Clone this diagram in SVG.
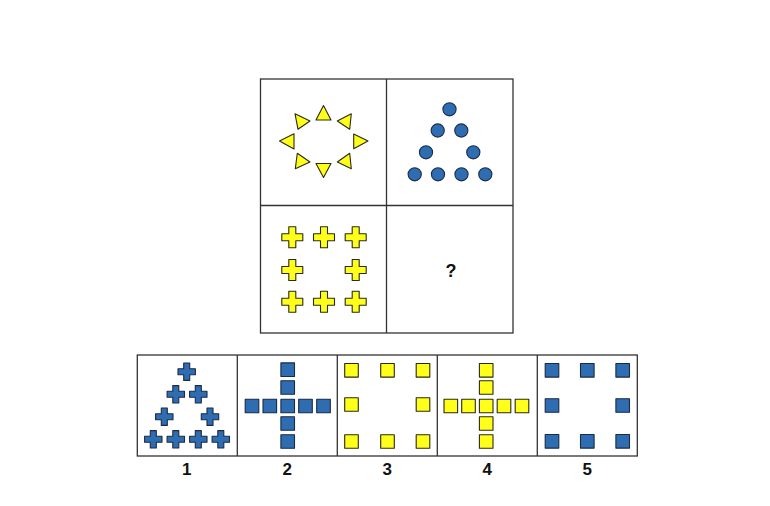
<svg xmlns="http://www.w3.org/2000/svg" width="770" height="506" viewBox="0 0 770 506">
<defs>
<style>
.frame{fill:none;stroke:#333;stroke-width:1.3}
.y{fill:#FFFF1A;stroke:#2a2a1a;stroke-width:1.1;stroke-linejoin:round}
.b{fill:#2F6DB3;stroke:#1b2b44;stroke-width:1.1;stroke-linejoin:round}
.lbl{font-family:"Liberation Sans",Arial,sans-serif;font-weight:bold;font-size:17px;fill:#111;text-anchor:middle}
</style>
<path id="crossY" d="M-3.5,-10.5 H3.5 V-3.5 H10.5 V3.5 H3.5 V10.5 H-3.5 V3.5 H-10.5 V-3.5 H-3.5 Z"/>
<path id="crossB" d="M-3,-8.7 H3 V-3 H8.7 V3 H3 V8.7 H-3 V3 H-8.7 V-3 H-3 Z"/>
<rect id="sq" x="-6.8" y="-6.8" width="13.6" height="13.6"/>
</defs>
<rect width="770" height="506" fill="#fff"/>

<g id="grid">
<rect class="frame" x="260.5" y="79" width="252.5" height="254"/>
<line class="frame" x1="386.5" y1="79" x2="386.5" y2="333"/>
<line class="frame" x1="260.5" y1="205.5" x2="513" y2="205.5"/>
</g>

<g id="cell-triangles">
<polygon class="y" points="323.5,105.5 316,120 331,120"/>
<polygon class="y" points="316,163.5 331,163.5 323.5,177.5"/>
<polygon class="y" points="279.5,141 294,133.7 294,149"/>
<polygon class="y" points="368,141 353.7,134 353.7,148.7"/>
<polygon class="y" points="295,113.7 310,121 298,129.3"/>
<polygon class="y" points="351.3,113.7 337.3,121 349.7,129.3"/>
<polygon class="y" points="297.3,153.3 310,162 295.3,168.7"/>
<polygon class="y" points="349.7,153.3 337.3,162 351.3,168.7"/>
</g>

<g id="cell-circles">
<circle class="b" cx="449.5" cy="109.3" r="6.6"/>
<circle class="b" cx="437.7" cy="130.5" r="6.6"/>
<circle class="b" cx="461.3" cy="130.5" r="6.6"/>
<circle class="b" cx="426" cy="152.3" r="6.6"/>
<circle class="b" cx="473.3" cy="152.3" r="6.6"/>
<circle class="b" cx="414.7" cy="174.3" r="6.6"/>
<circle class="b" cx="438" cy="174.3" r="6.6"/>
<circle class="b" cx="461.5" cy="174.3" r="6.6"/>
<circle class="b" cx="485.3" cy="174.3" r="6.6"/>
</g>

<g id="cell-crosses">
<use href="#crossY" class="y" x="292.3" y="237.3"/>
<use href="#crossY" class="y" x="324" y="237.3"/>
<use href="#crossY" class="y" x="355.7" y="237.3"/>
<use href="#crossY" class="y" x="292.3" y="270"/>
<use href="#crossY" class="y" x="355.7" y="270"/>
<use href="#crossY" class="y" x="292.3" y="301.7"/>
<use href="#crossY" class="y" x="324" y="301.7"/>
<use href="#crossY" class="y" x="355.7" y="301.7"/>
</g>

<g id="cell-question">
<text class="lbl" x="451" y="276.5" style="font-size:18px">?</text>
</g>

<g id="answers-frame">
<rect class="frame" x="137.3" y="355" width="500" height="101"/>
<line class="frame" x1="237.3" y1="355" x2="237.3" y2="456"/>
<line class="frame" x1="337.3" y1="355" x2="337.3" y2="456"/>
<line class="frame" x1="437.3" y1="355" x2="437.3" y2="456"/>
<line class="frame" x1="537.3" y1="355" x2="537.3" y2="456"/>
</g>

<g id="option-1">
<use href="#crossB" class="b" x="186.7" y="371.7"/>
<use href="#crossB" class="b" x="175.8" y="394.3"/>
<use href="#crossB" class="b" x="198.3" y="394.3"/>
<use href="#crossB" class="b" x="164.3" y="416.7"/>
<use href="#crossB" class="b" x="210" y="416.7"/>
<use href="#crossB" class="b" x="153.3" y="439.3"/>
<use href="#crossB" class="b" x="175.8" y="439.3"/>
<use href="#crossB" class="b" x="198.3" y="439.3"/>
<use href="#crossB" class="b" x="220.8" y="439.3"/>
<text class="lbl" x="186.7" y="475">1</text>
</g>

<g id="option-2">
<use href="#sq" class="b" x="287.7" y="369.7"/>
<use href="#sq" class="b" x="287.7" y="387.5"/>
<use href="#sq" class="b" x="287.7" y="406"/>
<use href="#sq" class="b" x="287.7" y="423.5"/>
<use href="#sq" class="b" x="287.7" y="441.5"/>
<use href="#sq" class="b" x="252" y="406"/>
<use href="#sq" class="b" x="269.8" y="406"/>
<use href="#sq" class="b" x="305.5" y="406"/>
<use href="#sq" class="b" x="323.5" y="406"/>
<text class="lbl" x="287.3" y="475">2</text>
</g>

<g id="option-3">
<use href="#sq" class="y" x="351.5" y="370.3"/>
<use href="#sq" class="y" x="387.5" y="370.3"/>
<use href="#sq" class="y" x="423" y="370.3"/>
<use href="#sq" class="y" x="351.5" y="404.5"/>
<use href="#sq" class="y" x="423" y="404.5"/>
<use href="#sq" class="y" x="351.5" y="441.5"/>
<use href="#sq" class="y" x="387.5" y="441.5"/>
<use href="#sq" class="y" x="423" y="441.5"/>
<text class="lbl" x="387.3" y="475">3</text>
</g>

<g id="option-4">
<use href="#sq" class="y" x="486.2" y="370.3"/>
<use href="#sq" class="y" x="486.2" y="387.5"/>
<use href="#sq" class="y" x="486.2" y="406"/>
<use href="#sq" class="y" x="486.2" y="423.5"/>
<use href="#sq" class="y" x="486.2" y="441.5"/>
<use href="#sq" class="y" x="450.8" y="406"/>
<use href="#sq" class="y" x="468.5" y="406"/>
<use href="#sq" class="y" x="504" y="406"/>
<use href="#sq" class="y" x="522" y="406"/>
<text class="lbl" x="487.3" y="475">4</text>
</g>

<g id="option-5">
<use href="#sq" class="b" x="552" y="370.3"/>
<use href="#sq" class="b" x="587.3" y="370.3"/>
<use href="#sq" class="b" x="622.7" y="370.3"/>
<use href="#sq" class="b" x="552" y="405.5"/>
<use href="#sq" class="b" x="622.7" y="405.5"/>
<use href="#sq" class="b" x="552" y="441.3"/>
<use href="#sq" class="b" x="587.3" y="441.3"/>
<use href="#sq" class="b" x="622.7" y="441.3"/>
<text class="lbl" x="587.3" y="475">5</text>
</g>
</svg>
